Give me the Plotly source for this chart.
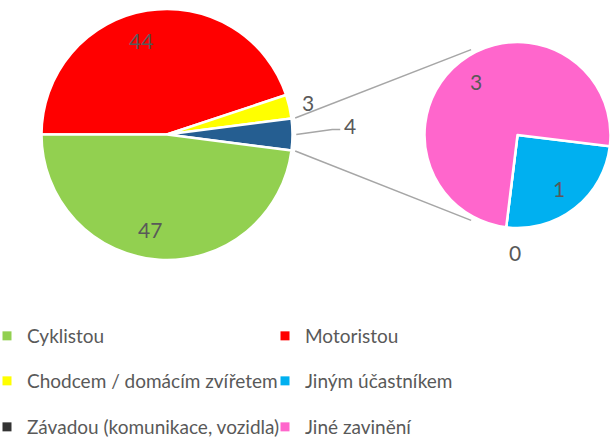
import math
import plotly.graph_objects as go

# ---------------- data ----------------
main_labels = ["Cyklistou", "Motoristou", "Chodcem / domácím zvířetem"]
main_values = [47, 44, 3]
main_colors = ["#92D050", "#FF0000", "#FFFF00"]

sec_labels = ["Jiným účastníkem", "Závadou (komunikace, vozidla)", "Jiné zavinění"]
sec_values = [1, 0, 3]
sec_colors = ["#00B0F0", "#333333", "#FF66CC"]

legend_rows = [
    ["Cyklistou", "Motoristou"],
    ["Chodcem / domácím zvířetem", "Jiným účastníkem"],
    ["Závadou (komunikace, vozidla)", "Jiné zavinění"],
]

other_value = sum(sec_values)
other_color = "#255E91"

# ---------------- layout geometry (pixels) ----------------
W, H = 611, 439
MAIN_C = (167.0, 134.5)
MAIN_R = 125.5
SEC_C = (517.5, 135.0)
SEC_R = 93.0
LABEL_COLOR = "#595959"
FONT = "Lato"


def px_to_paper(x, y):
    return x / W, 1 - y / H


def domain(c, r):
    return dict(x=[(c[0] - r) / W, (c[0] + r) / W],
                y=[1 - (c[1] + r) / H, 1 - (c[1] - r) / H])


def polar(c, r, deg):
    a = math.radians(deg)
    return c[0] + r * math.cos(a), c[1] - r * math.sin(a)


color_of = dict(zip(main_labels + sec_labels, main_colors + sec_colors))

# main pie, clockwise from 9 o'clock: Motoristou, Chodcem, Other, Cyklistou
m_order_labels = [main_labels[1], main_labels[2], "Ostatní", main_labels[0]]
m_order_values = [main_values[1], main_values[2], other_value, main_values[0]]
m_order_colors = [main_colors[1], main_colors[2], other_color, main_colors[0]]
m_start = 180.0  # math angle (deg) where the first slice starts

# secondary pie, clockwise from just below 3 o'clock
s_start = -7.0

fig = go.Figure()
fig.add_trace(go.Pie(
    labels=m_order_labels, values=m_order_values, sort=False,
    direction="clockwise", rotation=90 - m_start,
    marker=dict(colors=m_order_colors, line=dict(color="white", width=2.5)),
    textinfo="none", hoverinfo="label+value", showlegend=False,
    domain=domain(MAIN_C, MAIN_R),
))
fig.add_trace(go.Pie(
    labels=sec_labels, values=sec_values, sort=False,
    direction="clockwise", rotation=90 - s_start,
    marker=dict(colors=sec_colors, line=dict(color="white", width=2.5)),
    textinfo="none", hoverinfo="label+value", showlegend=False,
    domain=domain(SEC_C, SEC_R),
))

annotations = []
shapes = []


def add_label(x, y, text, size=21):
    px, py = px_to_paper(x, y)
    annotations.append(dict(x=px, y=py, xref="paper", yref="paper", text=text,
                            showarrow=False, xanchor="center", yanchor="middle",
                            font=dict(family=FONT, size=size, color=LABEL_COLOR)))


def add_line(pts, color="#A6A6A6", width=1.5):
    path = "M " + " L ".join(f"{x/W:.5f},{1 - y/H:.5f}" for x, y in pts)
    shapes.append(dict(type="path", path=path, xref="paper", yref="paper",
                       line=dict(color=color, width=width)))


# main pie labels (angles walk clockwise = decreasing math angle)
total = sum(m_order_values)
ang = m_start
other_edges = None
for lab, v in zip(m_order_labels, m_order_values):
    span = v / total * 360
    mid = ang - span / 2
    if lab == "Ostatní":
        other_edges = (ang - span, ang)
        lx, ly = polar(MAIN_C, MAIN_R * 1.46, mid)
        ly -= 9
        add_label(lx, ly, str(v))
        sx, sy = polar(MAIN_C, MAIN_R * 1.03, mid)
        add_line([(sx, sy), (lx - 18, ly + 4), (lx - 10, ly + 4)])
    elif v / total < 0.1:
        lx, ly = polar(MAIN_C, MAIN_R * 1.15, mid)
        add_label(lx, ly, str(v))
    else:
        lx, ly = polar(MAIN_C, MAIN_R * 0.76, mid)
        add_label(lx - 11, ly, str(v))
    ang -= span

# secondary pie labels
stotal = sum(sec_values)
ang = s_start
for lab, v in zip(sec_labels, sec_values):
    span = v / stotal * 360
    mid = ang - span / 2
    if v == 0:
        lx, ly = polar(SEC_C, SEC_R * 1.27, mid)
        add_label(lx + 12, ly, str(v))
    else:
        lx, ly = polar(SEC_C, SEC_R * 0.73, mid)
        add_label(lx, ly, str(v))
    ang -= span

# series lines connecting the pies
SEC_LINE_ANG = 118.5
a0, a1 = other_edges
p_top = polar(MAIN_C, MAIN_R * 1.03, a1)
p_bot = polar(MAIN_C, MAIN_R * 1.03, a0)
add_line([p_top, polar(SEC_C, SEC_R * 1.045, SEC_LINE_ANG)])
add_line([p_bot, polar(SEC_C, SEC_R * 1.045, -SEC_LINE_ANG)])

# legend via dummy traces, one legend per row
legend_y = [336, 381, 427]
for i, row in enumerate(legend_rows):
    lname = "legend" if i == 0 else f"legend{i+1}"
    for name in row:
        fig.add_trace(go.Scatter(
            x=[None], y=[None], mode="markers", name=name,
            marker=dict(symbol="square", size=9, color=color_of[name]),
            legend=lname, showlegend=True, hoverinfo="skip",
        ))

LEG_STEP = 278        # px between the two legend columns
LEG_BOX_LEFT = -13    # px
layout_legends = {}
for i in range(len(legend_rows)):
    lname = "legend" if i == 0 else f"legend{i+1}"
    layout_legends[lname] = dict(
        orientation="h", x=(LEG_BOX_LEFT + LEG_STEP) / W, xanchor="center",
        y=1 - legend_y[i] / H, yanchor="middle",
        entrywidth=LEG_STEP - 45, entrywidthmode="pixels",
        font=dict(family=FONT, size=19, color=LABEL_COLOR),
        bgcolor="rgba(0,0,0,0)", borderwidth=0,
    )

fig.update_layout(
    width=W, height=H,
    margin=dict(l=0, r=0, t=0, b=0, autoexpand=False),
    paper_bgcolor="white", plot_bgcolor="white",
    xaxis=dict(visible=False), yaxis=dict(visible=False),
    annotations=annotations, shapes=shapes,
    **layout_legends,
)

fig.write_html("out.html", config={"displayModeBar": False},
               post_script="document.body.style.margin='0';")
